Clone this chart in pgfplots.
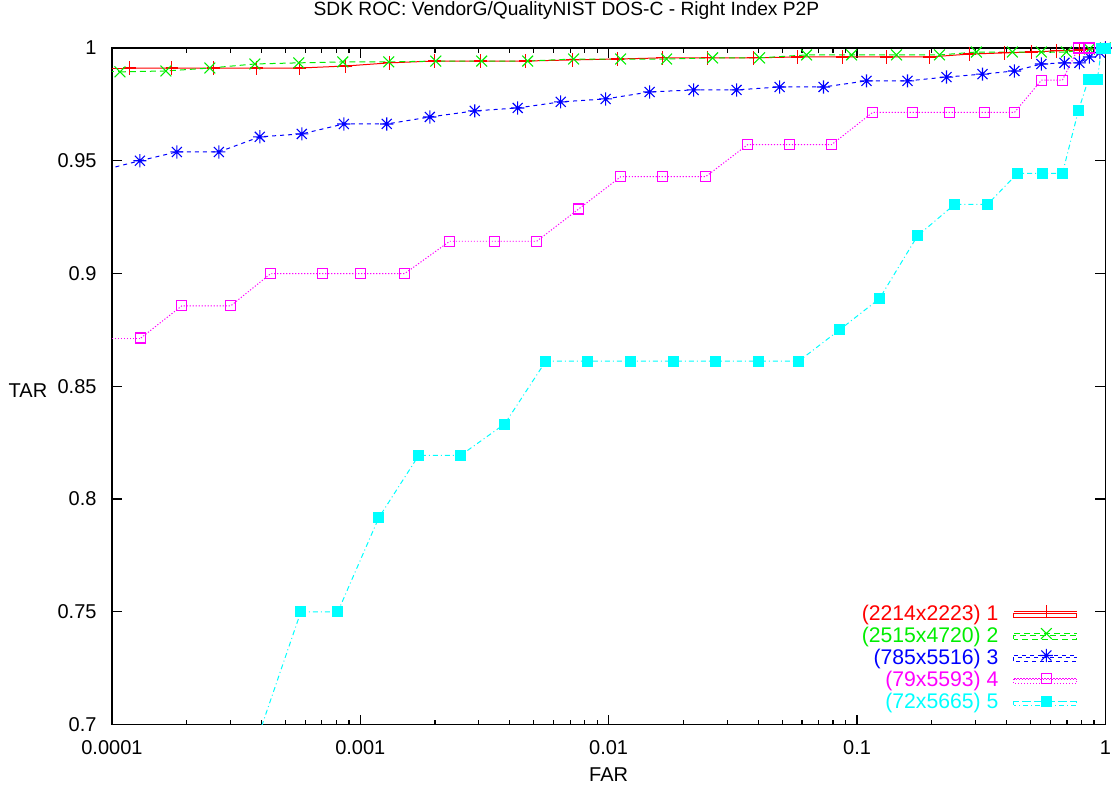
\documentclass[border=0pt]{standalone}
\usepackage{fontspec}
\setmainfont{Liberation Sans}
\usepackage{pgfplots}
\pgfplotsset{compat=1.18}
\definecolor{gpred}{RGB}{255,0,0}
\definecolor{gpgreen}{RGB}{0,238,0}
\definecolor{gpblue}{RGB}{0,0,255}
\definecolor{gpmag}{RGB}{255,0,255}
\definecolor{gpcyan}{RGB}{0,255,255}
\pgfdeclareplotmark{redplus}{%
 \pgfsetstrokecolor{gpred}\pgfsetdash{}{0pt}\pgfsetlinewidth{0.55pt}%
 \pgfpathmoveto{\pgfqpoint{-3.2pt}{0pt}}\pgfpathlineto{\pgfqpoint{3.2pt}{0pt}}%
 \pgfpathmoveto{\pgfqpoint{0pt}{-3.4pt}}\pgfpathlineto{\pgfqpoint{0pt}{3.4pt}}%
 \pgfusepathqstroke}
\pgfdeclareplotmark{greenx}{%
 \pgfsetstrokecolor{gpgreen}\pgfsetdash{}{0pt}\pgfsetlinewidth{0.55pt}%
 \pgfpathmoveto{\pgfqpoint{-2.7pt}{-2.7pt}}\pgfpathlineto{\pgfqpoint{2.7pt}{2.7pt}}%
 \pgfpathmoveto{\pgfqpoint{-2.7pt}{2.7pt}}\pgfpathlineto{\pgfqpoint{2.7pt}{-2.7pt}}%
 \pgfusepathqstroke}
\pgfdeclareplotmark{bluestar}{%
 \pgfsetstrokecolor{gpblue}\pgfsetdash{}{0pt}\pgfsetlinewidth{0.55pt}%
 \pgfpathmoveto{\pgfqpoint{-3.3pt}{0pt}}\pgfpathlineto{\pgfqpoint{3.3pt}{0pt}}%
 \pgfpathmoveto{\pgfqpoint{0pt}{-3.3pt}}\pgfpathlineto{\pgfqpoint{0pt}{3.3pt}}%
 \pgfpathmoveto{\pgfqpoint{-2.5pt}{-2.5pt}}\pgfpathlineto{\pgfqpoint{2.5pt}{2.5pt}}%
 \pgfpathmoveto{\pgfqpoint{-2.5pt}{2.5pt}}\pgfpathlineto{\pgfqpoint{2.5pt}{-2.5pt}}%
 \pgfusepathqstroke}
\pgfdeclareplotmark{magsq}{%
 \pgfsetstrokecolor{gpmag}\pgfsetdash{}{0pt}\pgfsetlinewidth{0.55pt}%
 \pgfpathrectangle{\pgfqpoint{-2.5pt}{-2.5pt}}{\pgfqpoint{5pt}{5pt}}%
 \pgfusepathqstroke}
\pgfdeclareplotmark{cyansq}{%
 \pgfsetstrokecolor{gpcyan}\pgfsetfillcolor{gpcyan}\pgfsetdash{}{0pt}\pgfsetlinewidth{0.4pt}%
 \pgfpathrectangle{\pgfqpoint{-2.5pt}{-2.5pt}}{\pgfqpoint{5pt}{5pt}}%
 \pgfusepathqfillstroke}
\newcommand\legtext[2]{\pgfsetfillcolor{#1}#2}
\begin{document}
\begin{tikzpicture}
\begin{axis}[
  name=ax,
  scale only axis,
  width=497pt, height=338.5pt,
  xmode=log,
  xmin=1e-4, xmax=1, ymin=0.7, ymax=1,
  xtick={1e-4,1e-3,1e-2,1e-1,1},
  xticklabels={0.0001,0.001,0.01,0.1,1},
  minor xtick={2e-4,3e-4,4e-4,5e-4,6e-4,7e-4,8e-4,9e-4,2e-3,3e-3,4e-3,5e-3,6e-3,7e-3,8e-3,9e-3,2e-2,3e-2,4e-2,5e-2,6e-2,7e-2,8e-2,9e-2,0.2,0.3,0.4,0.5,0.6,0.7,0.8,0.9},
  ytick={0.7,0.75,0.8,0.85,0.9,0.95,1},
  yticklabels={0.7,0.75,0.8,0.85,0.9,0.95,1},
  tick pos=both,
  tick align=inside,
  major tick length=5pt,
  minor tick length=2.5pt,
  tick style={black, line width=0.6pt},
  axis line style={line width=0.9pt},
  xticklabel style={anchor=base, yshift=-15pt, inner sep=0pt},
  yticklabel style={anchor=east, xshift=-7.5pt, inner sep=0pt},
  title={SDK ROC: VendorG/QualityNIST DOS-C - Right Index P2P},
  title style={at={(axis description cs:0.4575,1)}, anchor=base, yshift=10pt, inner sep=0pt, font=\fontsize{9.6}{11}\selectfont},
  xlabel={FAR},
  xlabel style={at={(axis description cs:0.5,0)}, anchor=base, yshift=-28.5pt, inner sep=0pt},
  ylabel={TAR},
  ylabel style={rotate=-90, at={(axis description cs:0,0.5)}, anchor=center, xshift=-42pt, yshift=-2pt, inner sep=0pt},
  legend plot pos=right,
  legend cell align=right,
  legend style={at={(rel axis cs:1,0)}, anchor=south east, xshift=-14pt, yshift=6pt,
    draw=none, fill=none, inner sep=0pt, outer sep=0pt, row sep=1.4pt, column sep=7.5pt,
    font=\fontsize{10.6}{12}\selectfont,
    nodes={inner sep=0pt, text height=7.6pt, text depth=2pt}},
  legend image code/.code={\path (0pt,-1pt) rectangle (31.5pt,1pt);},
]
% red
\addplot[gpred, line width=0.5pt, mark=redplus] coordinates {
(1.181e-4,0.9911) (1.744e-4,0.9911) (2.573e-4,0.9911) (3.832e-4,0.9911) (5.708e-4,0.9911)
(8.745e-4,0.9920) (1.314e-3,0.9934) (1.994e-3,0.9942) (3.054e-3,0.9942) (4.634e-3,0.9942)
(7.164e-3,0.9947) (1.087e-2,0.9951) (1.650e-2,0.9956) (2.503e-2,0.9956) (3.832e-2,0.9956)
(5.763e-2,0.9960) (8.745e-2,0.9960) (0.1314,0.9960) (0.1958,0.9960) (0.2836,0.9973)
(0.3923,0.9978) (0.5037,0.9982) (0.6350,0.9987) (0.7859,0.9991) (1,1)};
\addlegendentry{\legtext{gpred}{(2214x2223) 1}}
% green
\addplot[gpgreen, line width=0.5pt, dash pattern=on 3pt off 2pt, mark=greenx] coordinates {
(1.077e-4,0.9894) (1.650e-4,0.9898) (2.480e-4,0.9911) (3.764e-4,0.9929) (5.655e-4,0.9934)
(8.505e-4,0.9938) (1.302e-3,0.9938) (2.013e-3,0.9942) (3.083e-3,0.9942) (4.721e-3,0.9942)
(7.232e-3,0.9951) (1.118e-2,0.9951) (1.712e-2,0.9951) (2.621e-2,0.9956) (4.052e-2,0.9956)
(6.264e-2,0.9969) (9.504e-2,0.9969) (0.1442,0.9969) (0.2148,0.9969) (0.3026,0.9982)
(0.4224,0.9982) (0.5527,0.9982) (0.6967,0.9982) (0.862,0.9995) (1,1)};
\addlegendentry{\legtext{gpgreen}{(2515x4720) 2}}
% blue
\addplot[gpblue, line width=0.5pt, dash pattern=on 2pt off 2pt, mark=bluestar] coordinates {
(1.296e-4,0.9500) (1.826e-4,0.9539) (2.695e-4,0.9539) (3.940e-4,0.9606) (5.817e-4,0.9619)
(8.585e-4,0.9663) (1.278e-3,0.9663) (1.905e-3,0.9694) (2.889e-3,0.9721) (4.303e-3,0.9734)
(6.409e-3,0.9761) (9.725e-3,0.9774) (1.462e-2,0.9805) (2.198e-2,0.9814) (3.274e-2,0.9814)
(4.877e-2,0.9827) (7.332e-2,0.9827) (0.1092,0.9854) (0.1597,0.9854) (0.2292,0.9871)
(0.3199,0.9884) (0.4303,0.9898) (0.5527,0.9929) (0.6839,0.9934) (0.7859,0.9934)
(0.8622,0.9960) (0.95,0.998) (1,1)};
\addlegendentry{\legtext{gpblue}{(785x5516) 3}}
% magenta
\addplot[gpmag, line width=0.5pt, dash pattern=on 0.6pt off 0.9pt, mark=magsq] coordinates {
(1.308e-4,0.8714) (1.913e-4,0.8857) (3.012e-4,0.8857) (4.364e-4,0.9) (7.066e-4,0.9)
(1.005e-3,0.9) (1.511e-3,0.9) (2.292e-3,0.9143) (3.477e-3,0.9143) (5.132e-3,0.9143)
(7.573e-3,0.9286) (1.118e-2,0.9429) (1.650e-2,0.9429) (2.456e-2,0.9429) (3.625e-2,0.9571)
(5.350e-2,0.9571) (7.897e-2,0.9571) (0.1155,0.9714) (0.1672,0.9714) (0.2356,0.9714)
(0.3260,0.9714) (0.4303,0.9714) (0.5527,0.9857) (0.6714,0.9857) (0.7786,1) (0.8622,1)};
\addlegendentry{\legtext{gpmag}{(79x5593) 4}}
% cyan
\addplot[gpcyan, line width=0.5pt, dash pattern=on 2.5pt off 1.5pt on 0.5pt off 1.5pt, mark=cyansq] coordinates {
(5.763e-4,0.75) (8.12e-4,0.75) (1.187e-3,0.7917) (1.72e-3,0.8194) (2.538e-3,0.8194)
(3.815e-3,0.8333) (5.58e-3,0.8611) (8.23e-3,0.8611) (1.226e-2,0.8611) (1.826e-2,0.8611)
(2.695e-2,0.8611) (4.014e-2,0.8611) (5.817e-2,0.8611) (8.504e-2,0.875) (0.1232,0.8889)
(0.1752,0.9167) (0.2469,0.9306) (0.3351,0.9306) (0.4425,0.9444) (0.5579,0.9444)
(0.6714,0.9444) (0.7786,0.9722) (0.8543,0.9861) (0.9286,0.9861) (0.965,1) (1,1)};
\addlegendentry{\legtext{gpcyan}{(72x5665) 5}}
% segments leading in from outside the axis
\addplot[forget plot, gpred, line width=0.5pt] coordinates {(8e-5,0.9911) (1.181e-4,0.9911)};
\addplot[forget plot, gpgreen, line width=0.5pt, dash pattern=on 3pt off 2pt] coordinates {(8e-5,0.9894) (1.077e-4,0.9894)};
\addplot[forget plot, gpblue, line width=0.5pt, dash pattern=on 2pt off 2pt] coordinates {(8.95e-5,0.9455) (1.296e-4,0.9500)};
\addplot[forget plot, gpmag, line width=0.5pt, dash pattern=on 0.6pt off 0.9pt] coordinates {(8.95e-5,0.8714) (1.308e-4,0.8714)};
\addplot[forget plot, gpcyan, line width=0.5pt, dash pattern=on 2.5pt off 1.5pt on 0.5pt off 1.5pt] coordinates {(3.87e-4,0.6944) (5.763e-4,0.75)};
% legend sample lines (key), drawn beside the legend texts
\addplot[forget plot, gpred, line width=0.5pt, mark=redplus, mark indices={2}] coordinates {(0.4303,0.75011) (0.5786,0.75011) (0.7714,0.75011)};
\addplot[forget plot, gpgreen, line width=0.5pt, dash pattern=on 3pt off 2pt, mark=greenx, mark indices={2}] coordinates {(0.4303,0.74036) (0.5786,0.74036) (0.7714,0.74036)};
\addplot[forget plot, gpblue, line width=0.5pt, dash pattern=on 2pt off 2pt, mark=bluestar, mark indices={2}] coordinates {(0.4303,0.73062) (0.5786,0.73062) (0.7714,0.73062)};
\addplot[forget plot, gpmag, line width=0.5pt, dash pattern=on 0.6pt off 0.9pt, mark=magsq, mark indices={2}] coordinates {(0.4303,0.72043) (0.5786,0.72043) (0.7714,0.72043)};
\addplot[forget plot, gpcyan, line width=0.5pt, dash pattern=on 2.5pt off 1.5pt on 0.5pt off 1.5pt, mark=cyansq, mark indices={2}] coordinates {(0.4303,0.71023) (0.5786,0.71023) (0.7714,0.71023)};
\end{axis}
\path (ax.south west) ++(-56pt,-34.5pt) coordinate (bl);
\path (ax.north east) ++(3pt,24pt) coordinate (tr);
\path (bl) rectangle (tr);
\end{tikzpicture}
\end{document}
